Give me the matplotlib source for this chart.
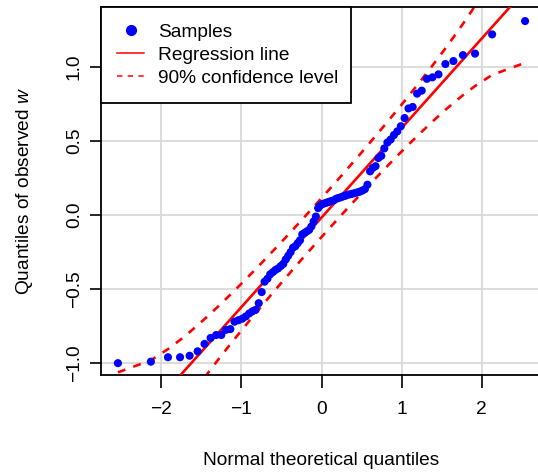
import math
import numpy as np
import matplotlib
matplotlib.use("Agg")
import matplotlib.pyplot as plt
from matplotlib.lines import Line2D

plt.rcParams["font.family"] = ["Liberation Sans", "DejaVu Sans"]
plt.rcParams["mathtext.fontset"] = "custom"
plt.rcParams["mathtext.rm"] = "Liberation Sans"
plt.rcParams["mathtext.it"] = "Liberation Sans:italic"

# theoretical normal quantiles (n = 90) and sorted observed values of w
theo_q = [
    -2.539, -2.128, -1.915, -1.764, -1.645, -1.545, -1.459, -1.383, -1.314, -1.250,
    -1.192, -1.137, -1.085, -1.036, -0.989, -0.945, -0.903, -0.862, -0.822, -0.783,
    -0.746, -0.710, -0.674, -0.640, -0.606, -0.573, -0.541, -0.509, -0.477, -0.446,
    -0.415, -0.385, -0.355, -0.326, -0.297, -0.268, -0.240, -0.210, -0.182, -0.154,
    -0.126, -0.098, -0.070, -0.042, -0.014, 0.014, 0.042, 0.070, 0.098, 0.126,
    0.154, 0.182, 0.210, 0.240, 0.268, 0.297, 0.326, 0.355, 0.385, 0.415,
    0.446, 0.477, 0.509, 0.541, 0.573, 0.606, 0.640, 0.674, 0.710, 0.746,
    0.783, 0.822, 0.862, 0.903, 0.945, 0.989, 1.036, 1.085, 1.137, 1.192,
    1.250, 1.314, 1.383, 1.459, 1.545, 1.645, 1.764, 1.915, 2.128, 2.539,
]
observed_w = [
    -1.00, -0.99, -0.96, -0.96, -0.95, -0.92, -0.87, -0.83, -0.81, -0.81,
    -0.775, -0.77, -0.72, -0.71, -0.70, -0.685, -0.665, -0.65, -0.64, -0.595,
    -0.52, -0.45, -0.43, -0.40, -0.385, -0.37, -0.36, -0.345, -0.33, -0.30,
    -0.275, -0.25, -0.22, -0.21, -0.19, -0.17, -0.13, -0.12, -0.11, -0.10,
    -0.077, -0.043, -0.01, 0.047, 0.065, 0.075, 0.08, 0.085, 0.09, 0.095,
    0.10, 0.11, 0.115, 0.12, 0.126, 0.13, 0.137, 0.14, 0.144, 0.148,
    0.153, 0.158, 0.165, 0.175, 0.205, 0.295, 0.318, 0.33, 0.385, 0.40,
    0.45, 0.49, 0.51, 0.54, 0.565, 0.60, 0.655, 0.72, 0.73, 0.82,
    0.84, 0.92, 0.93, 0.95, 1.02, 1.04, 1.08, 1.09, 1.22, 1.31,
]
line_slope = 0.605
line_intercept = -0.017
conf_level = 0.90

x_ticks = [-2, -1, 0, 1, 2]
y_ticks = [-1.0, -0.5, 0.0, 0.5, 1.0]

z = np.array(theo_q)
w = np.array(observed_w)
n = len(w)

# pointwise confidence envelope around the fitted line
fit = line_intercept + line_slope * z
P = np.array([0.5 * (1 + math.erf(v / math.sqrt(2))) for v in z])
dens = np.exp(-z ** 2 / 2) / math.sqrt(2 * math.pi)
se = (line_slope / dens) * np.sqrt(P * (1 - P) / n)
zz = 1.6449  # qnorm(1 - (1 - conf_level) / 2)
upper = fit + zz * se
lower = fit - zz * se

fig = plt.figure(figsize=(5.38, 4.72), dpi=100)
ax = fig.add_axes([101 / 538, 97 / 472, 441 / 538, 368 / 472])

for v in x_ticks:
    ax.axvline(v, color="#d9d9d9", lw=1.3, zorder=0)
for v in y_ticks:
    ax.axhline(v, color="#d9d9d9", lw=1.3, zorder=0)

ax.plot(z, upper, color="red", lw=1.9, dashes=(3, 3.2), zorder=2)
ax.plot(z, lower, color="red", lw=1.9, dashes=(3, 3.2), zorder=2)
xx = np.array([-3.0, 3.0])
ax.plot(xx, line_intercept + line_slope * xx, color="red", lw=1.9, zorder=3)
ax.scatter(z, w, s=34, color="blue", edgecolors="none", zorder=4)

ax.set_xlim(-2.75, 2.75)
ax.set_ylim(-1.08, 1.405)
ax.set_xticks(x_ticks)
ax.set_xticklabels([f"{t:g}".replace("-", "\u2212") for t in x_ticks])
ax.set_yticks(y_ticks)
ax.set_yticklabels([f"{t:.1f}".replace("-", "\u2212") for t in y_ticks], rotation=90, va="center")
ax.tick_params(direction="out", length=9, width=1.2, labelsize=13.8, pad=10)
ax.tick_params(axis="y", length=8, pad=5)
for s in ax.spines.values():
    s.set_linewidth(1.3)

ax.set_xlabel("Normal theoretical quantiles", fontsize=13.8, labelpad=24)
ax.set_ylabel("Quantiles of observed $w$", fontsize=13.8, labelpad=22)

handles = [
    Line2D([], [], marker="o", color="blue", ls="none", markersize=7),
    Line2D([], [], color="red", lw=1.1),
    Line2D([], [], color="red", lw=1.1, dashes=(3.5, 3.5)),
]
labels = ["Samples", "Regression line", "90% confidence level"]
leg = ax.legend(handles, labels, loc="upper left", bbox_to_anchor=(0, 0.75, 250 / 441, 0.25),
                mode="expand", borderaxespad=0, fontsize=13.8, frameon=True, fancybox=False,
                edgecolor="black", framealpha=1, handlelength=1.4, handletextpad=0.75,
                labelspacing=0.3, borderpad=0.85)
leg.get_frame().set_linewidth(1.3)

fig.savefig("out.png", dpi=100)
